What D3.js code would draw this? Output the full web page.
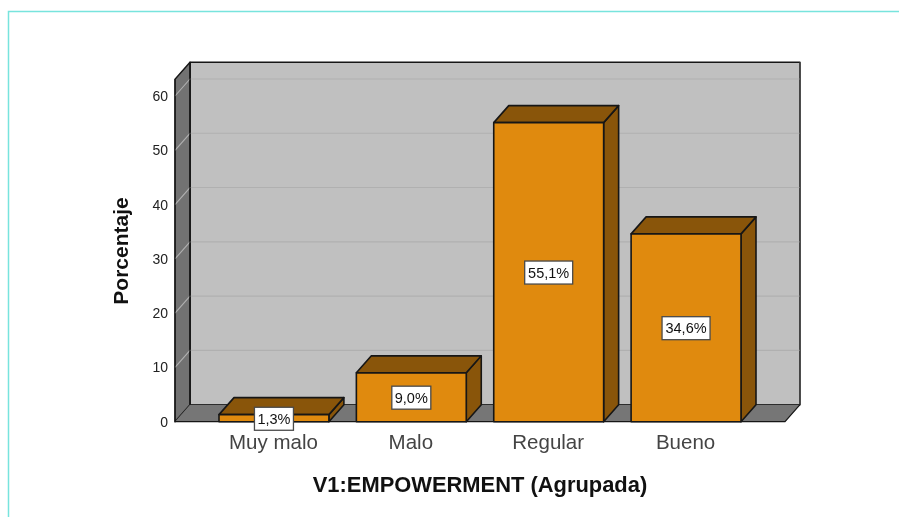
<!DOCTYPE html>
<html><head><meta charset="utf-8">
<script src="https://cdn.jsdelivr.net/npm/d3@7/dist/d3.min.js"></script>
<style>html,body{margin:0;padding:0;background:#fff}svg{display:block;filter:blur(0.35px)}text{font-family:"Liberation Sans",Arial,sans-serif;fill:#111}</style>
</head><body><svg id="c" width="899" height="517"></svg>
<script>
const categories = ["Muy malo","Malo","Regular","Bueno"];
const percentages = [1.3,9.0,55.1,34.6];
const valueLabels = ["1,3%","9,0%","55,1%","34,6%"];
const yTicks = [0,10,20,30,40,50,60];
const xTitle = "V1:EMPOWERMENT (Agrupada)";
const yTitle = "Porcentaje";

const svg = d3.select("#c");
const dx = 15, dy = 17;
const left = 175, right = 785, base = 421.7, topFront = 79.3;
const y = d3.scaleLinear().domain([0,60]).range([base,96]);
const x = d3.scaleBand().domain(categories).range([219,741]).paddingInner(0.2).paddingOuter(0);
const ink = "#161616", face = "#e08a0e", shade = "#89550a";
const poly = (pts,fill,stroke,w) => svg.append("path").attr("d",d3.line()(pts)+"Z").attr("fill",fill).attr("stroke",stroke).attr("stroke-width",w).attr("stroke-linejoin","round");

// frame
svg.append("path").attr("d","M899,11.5H8.5V517").attr("fill","none").attr("stroke","#78e4dd").attr("stroke-width",1.5);

// walls
poly([[left+dx,topFront-dy],[right+dx,topFront-dy],[right+dx,base-dy],[left+dx,base-dy]],"#c0c0c0",ink,1.4);
poly([[left,topFront],[left+dx,topFront-dy],[left+dx,base-dy],[left,base]],"#727272",ink,1.4);
poly([[left,base],[left+dx,base-dy],[right+dx,base-dy],[right,base]],"#767676","none",0);

// grid
svg.append("g").selectAll("path").data(yTicks.filter(d=>d>0)).join("path")
  .attr("d",d=>`M${left},${y(d)}L${left+dx},${y(d)-dy}H${right+dx}`)
  .attr("fill","none").attr("stroke","#b0b0b0").attr("stroke-width",1.1);
svg.append("path").attr("d",`M${left+dx},${topFront-dy}V${base-dy}`).attr("stroke",ink).attr("stroke-width",1.4);
svg.append("path").attr("d",`M${right+dx},${topFront-dy}V${base-dy}`).attr("stroke","#444").attr("stroke-width",1.2);
svg.append("path").attr("d",`M${right+dx},${base-dy}L${right},${base}H${left}V${topFront}`).attr("fill","none").attr("stroke",ink).attr("stroke-width",1.2);

// axis
const yAxis = svg.append("g").attr("transform",`translate(${left},0)`)
  .call(d3.axisLeft(y).tickValues(yTicks).tickSize(0).tickPadding(7).tickFormat(d3.format("d")));
yAxis.select(".domain").remove();
yAxis.selectAll("text").style("font-size","14px").style("fill","#222");

// bars
categories.forEach((c,i)=>{
  const x0=x(c), x1=x0+x.bandwidth(), yt=y(percentages[i]);
  poly([[x1,yt],[x1+dx,yt-dy],[x1+dx,base-dy],[x1,base]],shade,ink,1.6);
  poly([[x0,yt],[x0+dx,yt-dy],[x1+dx,yt-dy],[x1,yt]],shade,ink,1.6);
  poly([[x0,yt],[x1,yt],[x1,base],[x0,base]],face,ink,1.6);
});

// value labels
categories.forEach((c,i)=>{
  const cx=x(c)+x.bandwidth()/2, cy=(y(percentages[i])+base)/2 + (i===0?0.6:0.4);
  const w = valueLabels[i].length===4?39:48, h=23;
  svg.append("rect").attr("x",cx-w/2).attr("y",cy-h/2).attr("width",w).attr("height",h)
    .attr("fill","#fff").attr("stroke","#4a4a4a").attr("stroke-width",1.3);
  svg.append("text").attr("x",cx).attr("y",cy+5).attr("text-anchor","middle").style("font-size","14.5px").text(valueLabels[i]);
});

// category labels
svg.append("g").selectAll("text").data(categories).join("text")
  .attr("x",d=>x(d)+x.bandwidth()/2-0.5).attr("y",449).attr("text-anchor","middle")
  .style("font-size","20.5px").style("fill","#444").text(d=>d);

// titles
svg.append("text").attr("x",480).attr("y",491.5).attr("text-anchor","middle").style("font-size","21.9px").style("font-weight","700").text(xTitle);
svg.append("text").attr("transform","translate(128,251) rotate(-90)").attr("text-anchor","middle").style("font-size","21px").style("font-weight","700").text(yTitle);
</script></body></html>
